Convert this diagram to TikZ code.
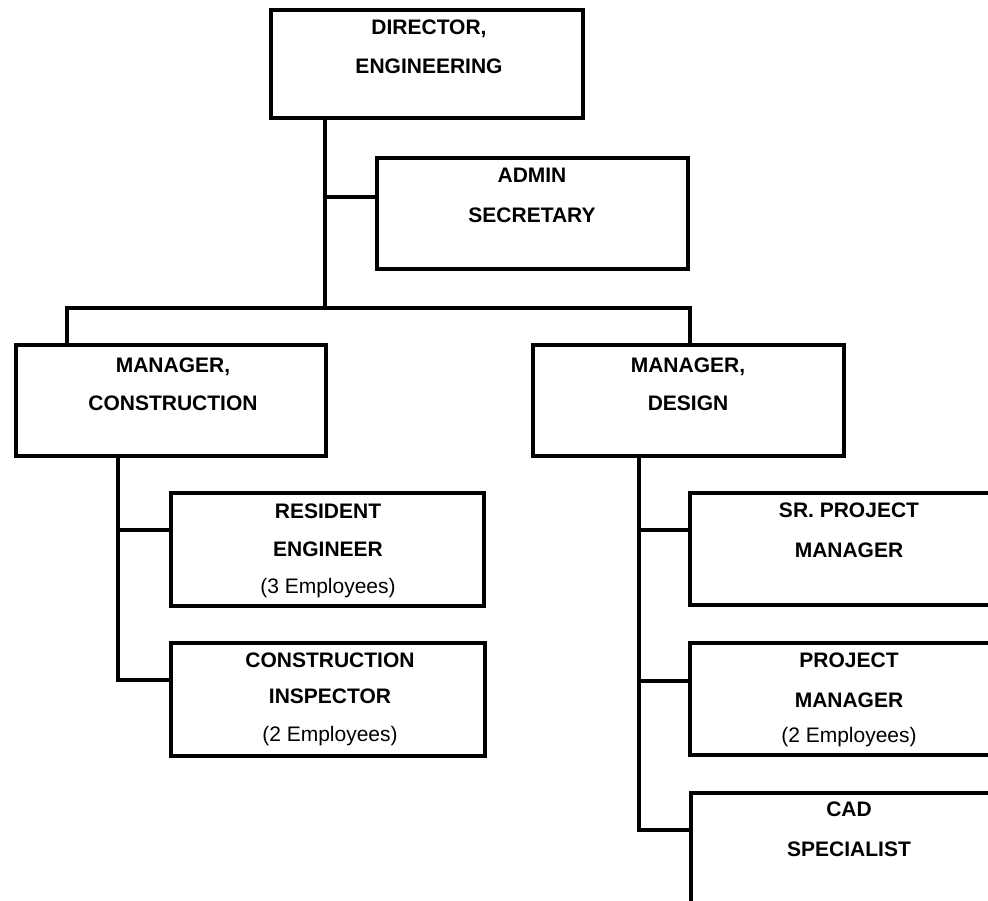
\documentclass[tikz,border=0pt]{standalone}
\usepackage{fontspec}
\setmainfont{Liberation Sans}
\begin{document}
\begin{tikzpicture}[x=1pt,y=-1pt,
  orgbox/.style={draw, line width=3.8pt, inner sep=0pt, outer sep=0pt, line join=miter},
  link/.style={line width=3.8pt, line join=miter},
  title/.style={font=\bfseries\fontsize{21}{25}\selectfont, anchor=base, inner sep=0pt},
  note/.style={font=\fontsize{21}{25}\selectfont, anchor=base, inner sep=0pt}]

% page frame; boxes on the right run past the edge
\clip (0,0) rectangle (988,901);

% boxes
\node[orgbox, minimum width=312pt, minimum height=108pt] (dir) at (427,64) {};
\node[orgbox, minimum width=311pt, minimum height=111pt] (adm) at (532.5,213.5) {};
\node[orgbox, minimum width=310pt, minimum height=111pt] (mc) at (171,400.5) {};
\node[orgbox, minimum width=311pt, minimum height=111pt] (md) at (688.5,400.5) {};
\node[orgbox, minimum width=313pt, minimum height=113pt] (res) at (327.5,549.5) {};
\node[orgbox, minimum width=314pt, minimum height=113pt] (ins) at (328,699.5) {};
\node[orgbox, minimum width=320pt, minimum height=112pt] (spm) at (850,549) {};
\node[orgbox, minimum width=320pt, minimum height=112pt] (pm) at (850,699) {};
\node[orgbox, minimum width=319pt, minimum height=112pt] (cad) at (850.5,849) {};

% labels
\node[title] (dir1) at (429,35) {DIRECTOR,};
\node[title] (dir2) at (429,74) {ENGINEERING};
\node[title] (adm1) at (532,183) {ADMIN};
\node[title] (adm2) at (532,223) {SECRETARY};
\node[title] (mc1) at (173,372) {MANAGER,};
\node[title] (mc2) at (173,410) {CONSTRUCTION};
\node[title] (md1) at (688,372) {MANAGER,};
\node[title] (md2) at (688,410) {DESIGN};
\node[title] (res1) at (328,518) {RESIDENT};
\node[title] (res2) at (328,556) {ENGINEER};
\node[note]  (res3) at (328,593) {(3 Employees)};
\node[title] (ins1) at (330,667) {CONSTRUCTION};
\node[title] (ins2) at (330,703) {INSPECTOR};
\node[note]  (ins3) at (330,741) {(2 Employees)};
\node[title] (spm1) at (849,517) {SR. PROJECT};
\node[title] (spm2) at (849,557) {MANAGER};
\node[title] (pm1) at (849,667) {PROJECT};
\node[title] (pm2) at (849,707) {MANAGER};
\node[note]  (pm3) at (849,742) {(2 Employees)};
\node[title] (cad1) at (849,816) {CAD};
\node[title] (cad2) at (849,856) {SPECIALIST};

% junction points
\coordinate (hub) at (325,308);
\coordinate (admj) at (325,197);
\coordinate (busl) at (67,308);
\coordinate (busr) at (690,308);
\coordinate (cres) at (118,530);
\coordinate (cins) at (118,680);
\coordinate (dspm) at (639,530);
\coordinate (dpm) at (639,681);
\coordinate (dcad) at (639,830);

% director trunk and admin branch
\draw[link] (dir.south -| hub) -- (hub);
\draw[link] (admj) -- (admj -| adm.west);

% bus to the two managers
\draw[link] (busl |- mc.north) -- (busl) -- (busr) -- (busr |- md.north);

% construction branch
\draw[link] (cres |- mc.south) -- (cins) -- (cins -| ins.west);
\draw[link] (cres) -- (cres -| res.west);

% design branch
\draw[link] (dspm |- md.south) -- (dcad) -- (dcad -| cad.west);
\draw[link] (dspm) -- (dspm -| spm.west);
\draw[link] (dpm) -- (dpm -| pm.west);
\end{tikzpicture}
\end{document}
